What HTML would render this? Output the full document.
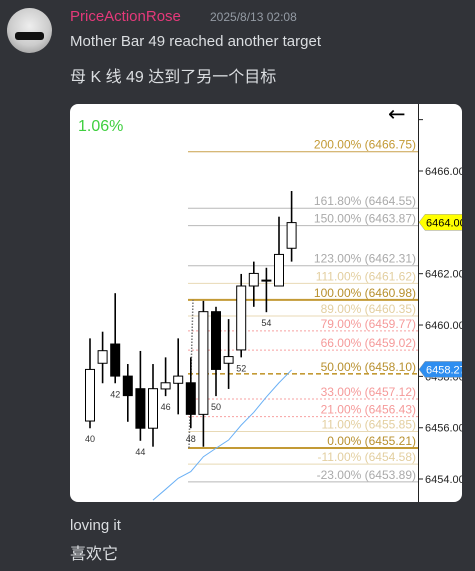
<!DOCTYPE html>
<html><head><meta charset="utf-8"><style>
body{margin:0;width:475px;height:571px;background:#313338;font-family:"Liberation Sans","Noto Sans CJK SC",sans-serif;position:relative;overflow:hidden}
.t{position:absolute;white-space:nowrap}
</style></head><body>
<div style="position:absolute;left:7px;top:8px;width:45px;height:45px;border-radius:50%;background:radial-gradient(circle at 50% 40%,#eee 0,#ccc 55%,#888 100%);overflow:hidden">
<div style="position:absolute;left:8px;top:24px;width:29px;height:8px;background:#111;border-radius:3px"></div></div>
<div class="t" style="left:70px;top:8px;font-size:15px;color:#e5397a">PriceActionRose</div>
<div class="t" style="left:210px;top:10px;font-size:12px;color:#949ba4">2025/8/13 02:08</div>
<div class="t" style="left:70px;top:33px;font-size:15px;color:#dbdee1">Mother Bar 49 reached another target</div>
<div class="t" style="left:70px;top:63px;font-size:16px;color:#dbdee1">母 K 线 49 达到了另一个目标</div>
<div class="t" style="left:70px;top:517px;font-size:15px;color:#dbdee1">loving it</div>
<div class="t" style="left:70px;top:540px;font-size:16px;color:#dbdee1">喜欢它</div>
<svg style="position:absolute;left:0;top:0" width="475" height="571">
<defs><clipPath id="card"><rect x="70" y="104" width="392" height="398" rx="8"/></clipPath></defs>
<g clip-path="url(#card)" id="chart">
<rect x="70" y="104" width="392" height="398" fill="#fff"/>
</g>
</svg>
<script>
const categories=[40,41,42,43,44,45,46,47,48,49,50,51,52,53,54,55,56];
const opens =[6456.26,6458.51,6459.26,6458.01,6457.52,6455.98,6457.51,6457.73,6457.75,6456.52,6460.52,6458.51,6459.03,6461.52,6461.75,6461.52,6462.99];
const highs =[6459.48,6459.74,6461.24,6458.48,6458.99,6458.48,6458.74,6459.48,6458.74,6460.94,6460.71,6460.23,6461.99,6462.47,6462.23,6464.22,6465.22];
const lows  =[6455.98,6457.73,6457.73,6456.23,6455.49,6455.26,6457.23,6456.52,6455.98,6455.26,6457.23,6457.51,6458.74,6460.71,6460.50,6461.52,6462.47];
const closes=[6458.27,6459.00,6458.01,6457.25,6455.98,6457.52,6457.75,6458.01,6456.52,6460.52,6458.27,6458.77,6461.52,6462.01,6461.75,6462.75,6463.99];
const barLabels=[40,42,44,46,48,50,52,54];
const maStart=5;
const maValues=[6453.18,6453.6,6454.03,6454.29,6454.87,6455.2,6455.52,6456.1,6456.6,6457.2,6457.75,6458.25];
const fibPct=["200.00%","161.80%","150.00%","123.00%","111.00%","100.00%","89.00%","79.00%","66.00%","50.00%","33.00%","21.00%","11.00%","0.00%","-11.00%","-23.00%"];
const fibVal=[6466.75,6464.55,6463.87,6462.31,6461.62,6460.98,6460.35,6459.77,6459.02,6458.10,6457.12,6456.43,6455.85,6455.21,6454.58,6453.89];
const fibKind=["gold","gray","gray","gray","tan","goldT","tan","pink","pink","goldD","pink","pink","tan","goldT","tan","gray"];
const yTicks=[6454,6456,6458,6460,6462,6464,6466,6468];
const lastPrice=6464.00, maLast=6458.27, pctText="1.06%";

const NS="http://www.w3.org/2000/svg";
const g=document.getElementById('chart');
const y=v=>171+(6466-v)*25.67;
const x=i=>90+12.6*i;
function mk(t,a,p){const e=document.createElementNS(NS,t);for(const k in a)e.setAttribute(k,a[k]);(p||g).appendChild(e);return e;}
const styles={gold:["#c9a04a",1,""],goldT:["#c39a35",2,""],goldD:["#c39a35",1.6,"5,3"],gray:["#b8b8b8",1,""],tan:["#e8d9b5",1,""],pink:["#f7a0a0",1,"2,2"]};
const tcol={gold:"#c39a35",goldT:"#b8902e",goldD:"#b8902e",gray:"#aaaaaa",tan:"#e3cfa0",pink:"#f59a9a"};
fibVal.forEach((v,i)=>{const s=styles[fibKind[i]];
 const l=mk('line',{x1:188,x2:418,y1:y(v),y2:y(v),stroke:s[0],'stroke-width':s[1],'stroke-dasharray':s[2]});
 
 
 const t=mk('text',{x:416,y:y(v)-3,'text-anchor':'end','font-size':12,fill:tcol[fibKind[i]],'font-family':'Liberation Sans'});
 t.textContent=fibPct[i]+" ("+v.toFixed(2)+")";
 
 
});
const dv=mk('line',{x1:189,y1:y(6455.21),x2:193,y2:y(6460.98),stroke:'#777','stroke-width':1.5,'stroke-dasharray':'1.5,1.5'});


const maPts=maValues.map((v,k)=>x(maStart+k)+","+y(v)).join(" ");
const ma=mk('polyline',{points:maPts,fill:'none',stroke:'#6ab0f5','stroke-width':1});


categories.forEach((c,i)=>{const cx=x(i);
 const w=mk('line',{x1:cx,x2:cx,y1:y(highs[i]),y2:y(lows[i]),stroke:'#000','stroke-width':1.6});
 
 
 const up=closes[i]>=opens[i];const top=y(Math.max(opens[i],closes[i])),bot=y(Math.min(opens[i],closes[i]));
 const r=mk('rect',{x:cx-4.5,y:top,width:9,height:Math.max(bot-top,1),fill:up?'#fff':'#000',stroke:'#000','stroke-width':1});
 
 
 if(barLabels.includes(c)){const t=mk('text',{x:cx,y:y(lows[i])+14,'text-anchor':'middle','font-size':9,fill:'#333','font-family':'Liberation Sans'});t.textContent=c;
  
  }
});
const ax=mk('line',{x1:418.5,x2:418.5,y1:104,y2:502,stroke:'#222','stroke-width':1});


yTicks.forEach(v=>{mk('line',{x1:418,x2:423,y1:y(v),y2:y(v),stroke:'#222'});
 if(v<6468){const t=mk('text',{x:425,y:y(v)+4,'font-size':11,fill:'#222','font-family':'Liberation Sans'});t.textContent=v.toFixed(2);
 
 }});
function tag(v,fill,tc,name){const yy=y(v);
 const p=mk('path',{d:`M419 ${yy} L425 ${yy-8} H465 V${yy+8} H425 Z`,fill:fill,stroke:'#999','stroke-width':0.5});
 
 
 const t=mk('text',{x:426,y:yy+4,'font-size':11,fill:tc,'font-family':'Liberation Sans'});t.textContent=v.toFixed(2);}
tag(lastPrice,'#ffff00','#000','last-price-tag');
tag(maLast,'#2e8ef0','#fff','ma-price-tag');
const pt=mk('text',{x:78,y:131,'font-size':16,fill:'#3fcf3f','font-family':'Liberation Sans'});pt.textContent=pctText;


const ar=mk('text',{x:388,y:121,'font-size':21,fill:'#000','font-family':'DejaVu Sans'});ar.textContent="←";


</script>
</body></html>
